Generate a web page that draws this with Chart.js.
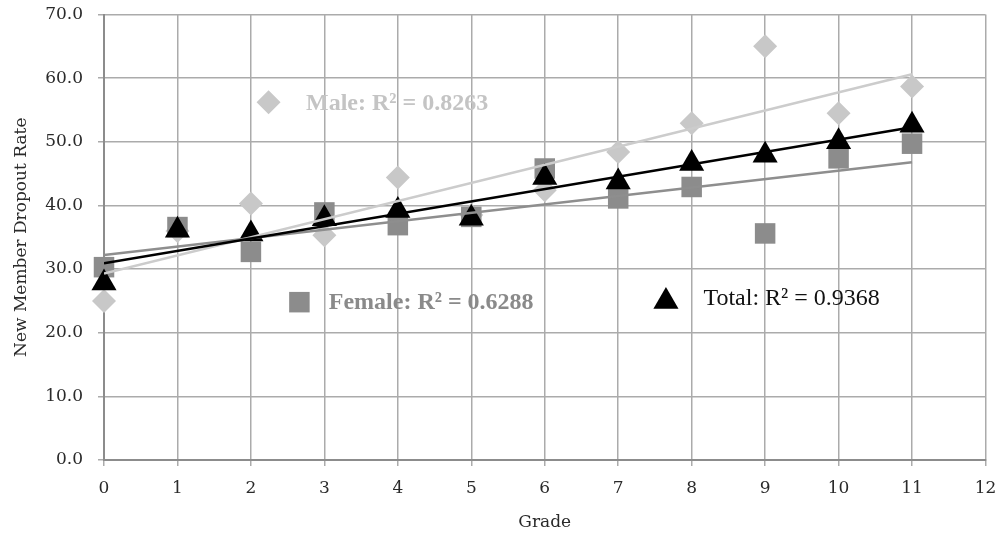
<!DOCTYPE html>
<html>
<head>
<meta charset="utf-8">
<script src="https://cdn.jsdelivr.net/npm/chart.js@4.4.0/dist/chart.umd.min.js"></script>
<style>
    html, body { margin: 0; padding: 0; background: #ffffff; }
    #wrap { width: 1000px; height: 535px; }
</style>
</head>
<body>
<div id="wrap"><canvas id="chart" width="1000" height="535"></canvas></div>
<script>
// Grades (x)
const grades = [0, 1, 2, 3, 4, 5, 6, 7, 8, 9, 10, 11];

// Dropout rates
const maleRates   = [25.0, 36.0, 40.3, 35.3, 44.4, 38.5, 42.4, 48.4, 52.9, 65.0, 54.5, 58.7];
const femaleRates = [30.3, 36.6, 32.7, 38.9, 36.9, 38.2, 45.8, 41.1, 42.9, 35.6, 47.4, 49.7];
const totalRates  = [27.8, 36.1, 35.5, 37.9, 39.2, 38.0, 44.4, 43.7, 46.6, 47.9, 50.0, 52.6];

// Trendline end points (grade 0 and grade 11)
const trendX      = [0, 11];
const maleTrend   = [29.3, 60.6];
const femaleTrend = [32.2, 46.8];
const totalTrend  = [30.9, 52.3];

// Legend labels
const legendLabels = ['Male: R\u00B2 = 0.8263', 'Female: R\u00B2 = 0.6288', 'Total: R\u00B2 = 0.9368'];

const toPoints = (xs, ys) => xs.map((x, i) => ({ x: x, y: ys[i] }));

const serif = '"Liberation Serif", "Times New Roman", serif';
const axisFont = '"DejaVu Serif", "Liberation Serif", serif';
const gridColor = '#ababab';

// Legend drawn inside the plot, as in the original
const insideLegend = {
    id: 'insideLegend',
    afterDatasetsDraw(chart) {
        const ctx = chart.ctx;
        const xs = chart.scales.x;
        const ys = chart.scales.y;
        const items = [
            { label: legendLabels[0], style: 'rectRot', radius: 12, color: '#c8c8c8', text: '#c4c4c4', bold: true, mx: 2.24, my: 56.2, tx: 2.75, ty: 56.2 },
            { label: legendLabels[1], style: 'rect', radius: 14.5, color: '#8c8c8c', text: '#8a8a8a', bold: true, mx: 2.66, my: 24.8, tx: 3.06, ty: 24.8 },
            { label: legendLabels[2], style: 'triangle', radius: 14.5, color: '#000000', text: '#111111', bold: false, mx: 7.65, my: 24.9, tx: 8.16, ty: 25.5 }
        ];
        ctx.save();
        items.forEach(it => {
            ctx.fillStyle = it.color;
            ctx.strokeStyle = it.color;
            ctx.lineWidth = 0;
            Chart.helpers.drawPoint(ctx, { pointStyle: it.style, radius: it.radius, rotation: 0, borderWidth: 0 },
                xs.getPixelForValue(it.mx), ys.getPixelForValue(it.my));
            ctx.fillStyle = it.text;
            ctx.font = (it.bold ? 'bold ' : '') + '24px ' + serif;
            ctx.textBaseline = 'middle';
            ctx.textAlign = 'left';
            ctx.fillText(it.label, xs.getPixelForValue(it.tx), ys.getPixelForValue(it.ty) + 1);
        });
        ctx.restore();
    }
};

const ctx = document.getElementById('chart');

new Chart(ctx, {
    type: 'scatter',
    data: {
        datasets: [
            {
                label: 'Total trend',
                data: toPoints(trendX, totalTrend),
                showLine: true,
                borderColor: '#000000',
                borderWidth: 2.5,
                pointRadius: 0,
                order: 1
            },
            {
                label: 'Female trend',
                data: toPoints(trendX, femaleTrend),
                showLine: true,
                borderColor: '#8e8e8e',
                borderWidth: 2.5,
                pointRadius: 0,
                order: 2
            },
            {
                label: 'Male trend',
                data: toPoints(trendX, maleTrend),
                showLine: true,
                borderColor: '#cccccc',
                borderWidth: 2.5,
                pointRadius: 0,
                order: 3
            },
            {
                label: 'Total',
                data: toPoints(grades, totalRates),
                pointStyle: 'triangle',
                pointRadius: 14.5,
                backgroundColor: '#000000',
                borderColor: '#000000',
                borderWidth: 0,
                clip: false,
                order: 4
            },
            {
                label: 'Female',
                data: toPoints(grades, femaleRates),
                pointStyle: 'rect',
                pointRadius: 14.5,
                backgroundColor: '#8c8c8c',
                borderColor: '#8c8c8c',
                borderWidth: 0,
                clip: false,
                order: 5
            },
            {
                label: 'Male',
                data: toPoints(grades, maleRates),
                pointStyle: 'rectRot',
                pointRadius: 12,
                backgroundColor: '#c8c8c8',
                borderColor: '#c8c8c8',
                borderWidth: 0,
                clip: false,
                order: 6
            }
        ]
    },
    options: {
        responsive: false,
        animation: false,
        layout: {
            padding: { top: 14, right: 14, bottom: 0, left: 0 }
        },
        scales: {
            x: {
                type: 'linear',
                min: 0,
                max: 12,
                ticks: {
                    stepSize: 1,
                    color: '#2a2a2a',
                    font: { family: axisFont, size: 17 },
                    padding: 12
                },
                grid: {
                    color: gridColor,
                    lineWidth: 1.5,
                    tickLength: 6
                },
                border: { color: '#8c8c8c', width: 2 },
                title: {
                    display: true,
                    text: 'Grade',
                    color: '#2a2a2a',
                    font: { family: axisFont, size: 17 },
                    padding: { top: 4, bottom: 2 }
                },
                afterFit(scale) {
                    scale.height = 75;
                    scale.paddingLeft = 0;
                    scale.paddingRight = 0;
                }
            },
            y: {
                min: 0,
                max: 70,
                ticks: {
                    stepSize: 10,
                    color: '#2a2a2a',
                    font: { family: axisFont, size: 17 },
                    padding: 15,
                    callback: v => Number(v).toFixed(1)
                },
                grid: {
                    color: gridColor,
                    lineWidth: 1.5,
                    tickLength: 6
                },
                border: { color: '#8c8c8c', width: 2 },
                title: {
                    display: true,
                    text: 'New Member Dropout Rate',
                    color: '#2a2a2a',
                    font: { family: axisFont, size: 17 },
                    padding: { top: 11, bottom: 0 }
                },
                afterFit(scale) {
                    scale.width = 104;
                    scale.paddingTop = 0;
                    scale.paddingBottom = 0;
                }
            }
        },
        plugins: {
            legend: { display: false },
            tooltip: { enabled: false }
        }
    },
    plugins: [insideLegend]
});
</script>
</body>
</html>
